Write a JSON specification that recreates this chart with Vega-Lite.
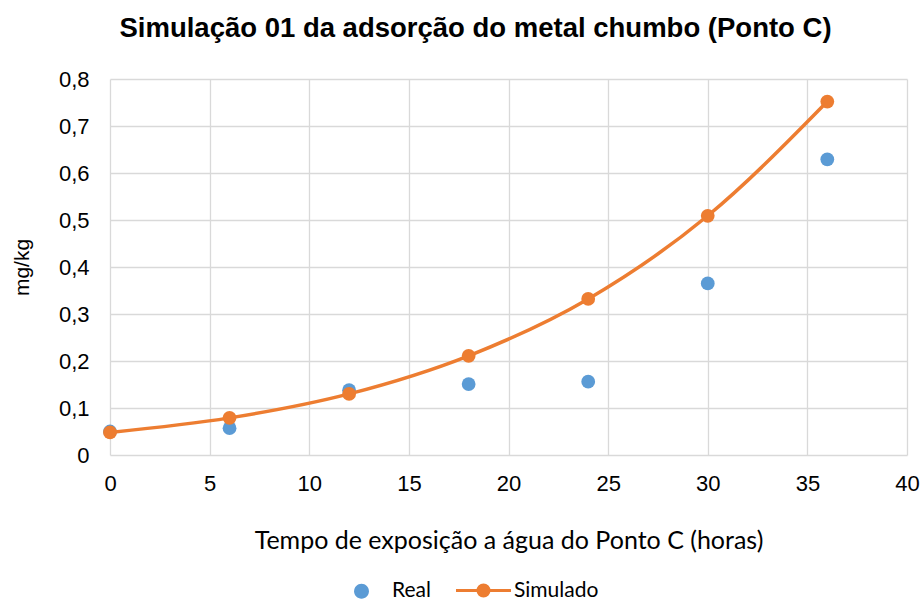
{
  "$schema": "https://vega.github.io/schema/vega-lite/v6.json",
  "width": 797,
  "height": 376,
  "autosize": {"type": "none"},
  "padding": {"left": 110, "top": 79, "right": 16, "bottom": 146},
  "background": "white",
  "title": {
    "text": "Simulação 01 da adsorção do metal chumbo (Ponto C)",
    "font": "Liberation Sans",
    "fontSize": 27.5,
    "fontWeight": "bold",
    "color": "#000000",
    "anchor": "middle",
    "dx": -33,
    "offset": 26
  },
  "data": {
    "values": [
      {"tempo": 0, "serie": "Real", "valor": 0.05},
      {"tempo": 6, "serie": "Real", "valor": 0.057},
      {"tempo": 12, "serie": "Real", "valor": 0.138},
      {"tempo": 18, "serie": "Real", "valor": 0.151},
      {"tempo": 24, "serie": "Real", "valor": 0.156},
      {"tempo": 30, "serie": "Real", "valor": 0.365},
      {"tempo": 36, "serie": "Real", "valor": 0.629},
      {"tempo": 0, "serie": "Simulado", "valor": 0.048},
      {"tempo": 6, "serie": "Simulado", "valor": 0.079},
      {"tempo": 12, "serie": "Simulado", "valor": 0.13},
      {"tempo": 18, "serie": "Simulado", "valor": 0.211},
      {"tempo": 24, "serie": "Simulado", "valor": 0.332},
      {"tempo": 30, "serie": "Simulado", "valor": 0.509},
      {"tempo": 36, "serie": "Simulado", "valor": 0.752}
    ]
  },
  "encoding": {
    "x": {
      "field": "tempo",
      "type": "quantitative",
      "scale": {"domain": [0, 40], "nice": false},
      "axis": {
        "title": "Tempo de exposição a água do Ponto C (horas)",
        "values": [0, 5, 10, 15, 20, 25, 30, 35, 40],
        "labelFlush": false,
        "labelPadding": 18,
        "titlePadding": 34,
        "titleFont": "Lato",
        "titleFontSize": 25,
        "titleFontWeight": "normal"
      }
    },
    "y": {
      "field": "valor",
      "type": "quantitative",
      "scale": {"domain": [0, 0.8], "nice": false},
      "axis": {
        "title": "mg/kg",
        "values": [0, 0.1, 0.2, 0.3, 0.4, 0.5, 0.6, 0.7, 0.8],
        "labelExpr": "datum.value == 0 ? '0' : replace(format(datum.value, '.1f'), '.', ',')",
        "labelFlush": false,
        "labelPadding": 21,
        "titlePadding": 26,
        "titleFont": "Liberation Sans",
        "titleFontSize": 21,
        "titleFontWeight": "normal"
      }
    },
    "color": {
      "field": "serie",
      "type": "nominal",
      "scale": {"domain": ["Real", "Simulado"], "range": ["#5B9BD5", "#ED7D31"]},
      "legend": {
        "title": null,
        "orient": "none",
        "direction": "horizontal",
        "legendX": 241,
        "legendY": 501,
        "symbolSize": 3025,
        "symbolStrokeWidth": 3,
        "labelOffset": 20,
        "columnPadding": 19,
        "labelFont": "Lato",
        "labelFontSize": 21,
        "labelColor": "#000000",
        "encode": {
          "symbols": {
            "update": {
              "shape": {"signal": "datum.value == 'Real' ? 'M-0.27,0A0.27,0.27 0 1 1 0.27,0A0.27,0.27 0 1 1 -0.27,0Z' : 'M-1,0L1,0M-0.2,0A0.2,0.2 0 1 1 0.2,0A0.2,0.2 0 1 1 -0.2,0Z'"},
              "fill": {"signal": "datum.value == 'Real' ? '#5B9BD5' : '#ED7D31'"},
              "stroke": {"signal": "datum.value == 'Real' ? '#5B9BD5' : '#ED7D31'"},
              "strokeWidth": {"signal": "datum.value == 'Real' ? 0 : 3"},
              "opacity": {"value": 1}
            }
          }
        }
      }
    }
  },
  "layer": [
    {
      "transform": [{"filter": "datum.serie == 'Real'"}],
      "mark": {"type": "circle", "size": 190, "opacity": 1}
    },
    {
      "transform": [{"filter": "datum.serie == 'Simulado'"}],
      "mark": {"type": "line", "interpolate": "monotone", "strokeWidth": 3.5}
    },
    {
      "transform": [{"filter": "datum.serie == 'Simulado'"}],
      "mark": {"type": "circle", "size": 190, "opacity": 1}
    }
  ],
  "config": {
    "view": {"stroke": null},
    "axis": {
      "grid": true,
      "gridColor": "#D9D9D9",
      "gridWidth": 1.3,
      "domain": false,
      "ticks": false,
      "labelFont": "Liberation Sans",
      "labelFontSize": 22,
      "labelColor": "#000000",
      "titleColor": "#000000"
    }
  }
}
